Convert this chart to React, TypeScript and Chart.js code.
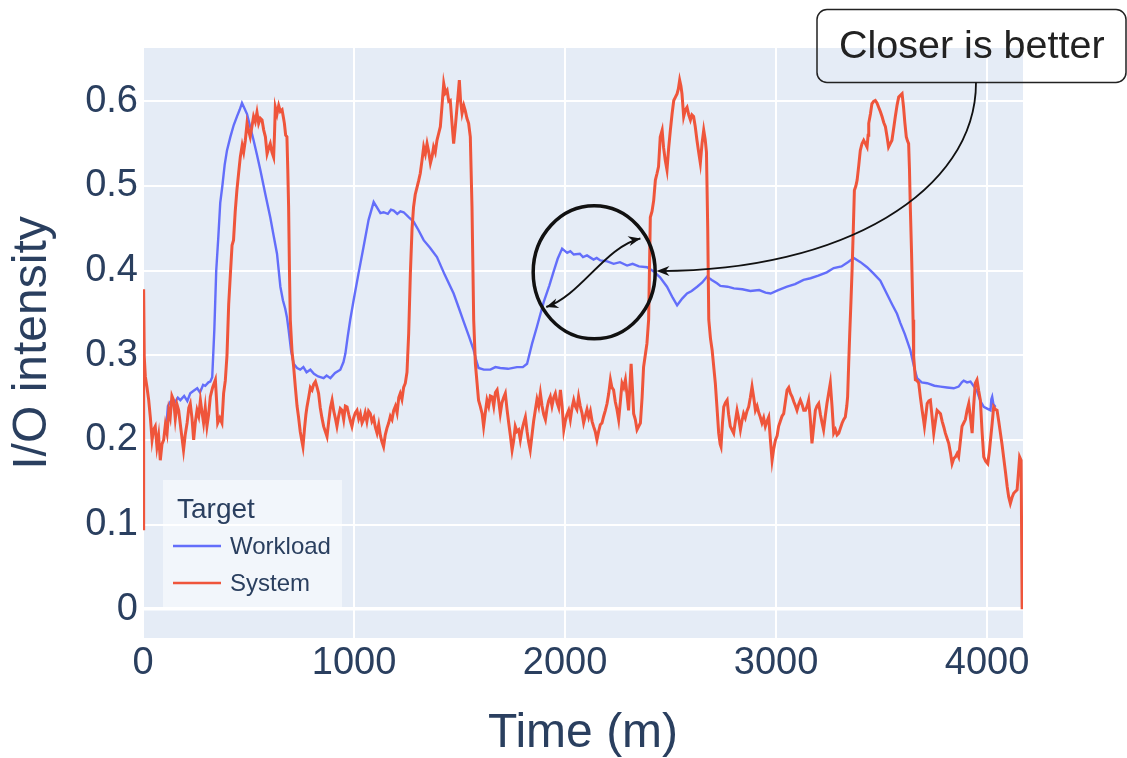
import React, { useEffect, useRef } from "react";
import { Chart, registerables } from "chart.js";

Chart.register(...registerables);

// ---- Data (time in minutes, I/O intensity) ----
const xTickValues = [0, 1000, 2000, 3000, 4000];
const yTickValues = [0, 0.1, 0.2, 0.3, 0.4, 0.5, 0.6];
const seriesLabels = ["Workload", "System"];
const legendTitle = "Target";

const workloadPoints: [number, number][] = [
  [110, 0.214], [118, 0.240], [129, 0.245], [150, 0.244], [165, 0.250], [177, 0.247], [195, 0.252],
  [210, 0.246], [224, 0.255], [240, 0.258], [257, 0.261], [270, 0.256], [285, 0.265], [295, 0.264],
  [310, 0.268], [319, 0.269], [328, 0.274], [338, 0.33], [347, 0.40], [357, 0.44], [366, 0.48],
  [376, 0.50], [387, 0.525], [398, 0.542], [414, 0.558], [430, 0.572], [445, 0.582], [458, 0.590],
  [469, 0.598], [480, 0.592], [493, 0.585], [508, 0.570], [524, 0.554], [540, 0.537], [556, 0.519],
  [580, 0.490], [603, 0.463], [620, 0.440], [635, 0.420], [651, 0.381], [663, 0.365], [674, 0.355],
  [682, 0.345], [690, 0.330], [702, 0.305], [714, 0.290], [730, 0.285], [745, 0.283], [760, 0.286],
  [775, 0.280], [793, 0.283], [810, 0.278], [830, 0.275], [856, 0.273], [870, 0.276], [888, 0.273],
  [910, 0.279], [935, 0.283], [950, 0.292], [959, 0.302], [970, 0.322], [982, 0.342], [998, 0.365],
  [1020, 0.395], [1045, 0.428], [1069, 0.460], [1093, 0.481], [1110, 0.474], [1125, 0.468],
  [1140, 0.469], [1160, 0.467], [1175, 0.472], [1188, 0.471], [1205, 0.467], [1220, 0.470],
  [1235, 0.469], [1260, 0.463], [1282, 0.458], [1305, 0.448], [1330, 0.436], [1360, 0.427],
  [1393, 0.416], [1430, 0.395], [1472, 0.373], [1495, 0.357], [1519, 0.340], [1545, 0.322],
  [1567, 0.306], [1580, 0.293], [1590, 0.285], [1615, 0.283], [1646, 0.283], [1670, 0.286],
  [1693, 0.285], [1730, 0.284], [1772, 0.286], [1800, 0.286], [1820, 0.290], [1835, 0.305],
  [1844, 0.314], [1867, 0.334], [1899, 0.363], [1925, 0.382], [1946, 0.399], [1965, 0.414],
  [1986, 0.426], [2010, 0.421], [2025, 0.423], [2041, 0.419], [2070, 0.420], [2085, 0.416],
  [2104, 0.418], [2135, 0.413], [2150, 0.415], [2167, 0.412], [2200, 0.411], [2230, 0.408],
  [2260, 0.410], [2294, 0.406], [2320, 0.408], [2350, 0.405], [2389, 0.404], [2420, 0.399],
  [2450, 0.392], [2483, 0.381], [2510, 0.368], [2531, 0.359], [2555, 0.367], [2578, 0.373],
  [2600, 0.376], [2626, 0.381], [2650, 0.386], [2673, 0.393], [2695, 0.389], [2720, 0.385],
  [2736, 0.382], [2770, 0.381], [2800, 0.379], [2840, 0.378], [2878, 0.376], [2920, 0.377],
  [2950, 0.374], [2974, 0.373], [3010, 0.377], [3052, 0.381], [3090, 0.384], [3130, 0.389],
  [3163, 0.391], [3200, 0.394], [3240, 0.398], [3273, 0.403], [3310, 0.405], [3340, 0.410],
  [3368, 0.415], [3400, 0.410], [3431, 0.404], [3460, 0.397], [3494, 0.388], [3520, 0.375],
  [3550, 0.360], [3573, 0.349], [3589, 0.338], [3610, 0.325], [3636, 0.306], [3655, 0.285],
  [3668, 0.273], [3690, 0.268], [3716, 0.267], [3750, 0.264], [3779, 0.263], [3810, 0.262],
  [3842, 0.261], [3865, 0.263], [3880, 0.268], [3889, 0.270], [3905, 0.268], [3921, 0.269],
  [3938, 0.263], [3953, 0.257], [3968, 0.246], [3984, 0.239], [4000, 0.237], [4016, 0.235],
  [4020, 0.248], [4024, 0.251], [4030, 0.242], [4040, 0.239],
];

const systemPoints: [number, number][] = [
  [0, 0.095], [3, 0.378], [6, 0.298], [11, 0.275], [19, 0.262], [27, 0.247], [35, 0.226], [43, 0.200],
  [50, 0.212], [58, 0.216], [66, 0.192], [74, 0.205], [82, 0.176], [90, 0.195], [98, 0.200], [106, 0.218],
  [114, 0.208], [122, 0.235], [129, 0.227], [137, 0.252], [145, 0.247], [153, 0.225], [161, 0.242],
  [169, 0.235], [180, 0.212], [192, 0.188], [200, 0.206], [209, 0.220], [217, 0.238], [224, 0.243],
  [232, 0.226], [240, 0.200], [248, 0.221], [256, 0.235], [264, 0.228], [272, 0.247], [280, 0.232],
  [287, 0.220], [295, 0.238], [303, 0.216], [311, 0.230], [319, 0.251], [330, 0.262], [343, 0.271],
  [349, 0.245], [354, 0.220], [364, 0.226], [374, 0.220], [382, 0.255], [390, 0.270], [398, 0.300],
  [406, 0.360], [415, 0.400], [422, 0.430], [429, 0.436], [437, 0.470], [445, 0.495], [453, 0.515],
  [461, 0.534], [470, 0.548], [477, 0.540], [485, 0.554], [493, 0.574], [500, 0.566], [508, 0.558],
  [516, 0.570], [524, 0.582], [532, 0.576], [540, 0.587], [548, 0.574], [556, 0.580], [564, 0.578],
  [572, 0.566], [580, 0.558], [588, 0.538], [596, 0.545], [603, 0.550], [611, 0.540], [619, 0.534],
  [623, 0.560], [627, 0.593], [635, 0.585], [643, 0.595], [651, 0.588], [659, 0.590], [666, 0.580],
  [670, 0.574], [676, 0.560], [682, 0.558], [686, 0.520], [690, 0.475], [694, 0.400], [698, 0.342],
  [706, 0.305], [714, 0.286], [722, 0.262], [730, 0.240], [737, 0.227], [745, 0.210], [752, 0.200],
  [758, 0.192], [766, 0.215], [772, 0.230], [777, 0.239], [785, 0.250], [793, 0.262], [801, 0.259],
  [809, 0.266], [817, 0.269], [825, 0.262], [832, 0.255], [840, 0.238], [848, 0.226], [856, 0.216],
  [864, 0.210], [872, 0.204], [880, 0.222], [888, 0.238], [896, 0.247], [904, 0.234], [912, 0.225],
  [919, 0.216], [927, 0.228], [935, 0.237], [943, 0.235], [951, 0.224], [959, 0.240], [967, 0.239],
  [975, 0.230], [983, 0.222], [990, 0.216], [998, 0.226], [1006, 0.232], [1014, 0.235], [1022, 0.225],
  [1030, 0.231], [1038, 0.220], [1045, 0.224], [1053, 0.232], [1061, 0.222], [1069, 0.234],
  [1077, 0.231], [1085, 0.222], [1093, 0.226], [1101, 0.215], [1109, 0.208], [1117, 0.218],
  [1125, 0.205], [1132, 0.198], [1140, 0.192], [1148, 0.206], [1156, 0.214], [1164, 0.220],
  [1172, 0.228], [1180, 0.224], [1188, 0.235], [1196, 0.240], [1204, 0.232], [1212, 0.250],
  [1219, 0.255], [1227, 0.248], [1235, 0.262], [1243, 0.267], [1251, 0.280], [1259, 0.326],
  [1267, 0.397], [1275, 0.450], [1282, 0.475], [1290, 0.490], [1299, 0.499], [1306, 0.506],
  [1314, 0.515], [1322, 0.530], [1330, 0.546], [1338, 0.538], [1346, 0.550], [1354, 0.540],
  [1362, 0.527], [1370, 0.535], [1377, 0.546], [1385, 0.540], [1393, 0.554], [1401, 0.562],
  [1409, 0.570], [1417, 0.595], [1425, 0.621], [1433, 0.610], [1441, 0.613], [1449, 0.600],
  [1456, 0.601], [1464, 0.575], [1472, 0.550], [1480, 0.570], [1488, 0.593], [1494, 0.610],
  [1499, 0.625], [1505, 0.600], [1512, 0.586], [1520, 0.595], [1527, 0.589], [1535, 0.580],
  [1543, 0.574], [1551, 0.558], [1559, 0.475], [1567, 0.342], [1575, 0.290], [1583, 0.267],
  [1590, 0.247], [1598, 0.240], [1607, 0.231], [1614, 0.216], [1622, 0.232], [1630, 0.247],
  [1638, 0.240], [1646, 0.252], [1654, 0.251], [1662, 0.240], [1670, 0.256], [1678, 0.259],
  [1686, 0.245], [1693, 0.231], [1701, 0.244], [1709, 0.250], [1717, 0.255], [1725, 0.236],
  [1733, 0.220], [1741, 0.205], [1749, 0.188], [1757, 0.200], [1764, 0.216], [1772, 0.210],
  [1780, 0.212], [1788, 0.200], [1796, 0.212], [1804, 0.220], [1812, 0.227], [1820, 0.210],
  [1827, 0.198], [1835, 0.188], [1843, 0.205], [1851, 0.222], [1859, 0.235], [1867, 0.248],
  [1875, 0.240], [1883, 0.255], [1891, 0.240], [1899, 0.230], [1907, 0.224], [1915, 0.238],
  [1922, 0.246], [1930, 0.251], [1938, 0.240], [1946, 0.250], [1954, 0.255], [1962, 0.244],
  [1970, 0.238], [1978, 0.259], [1986, 0.240], [1994, 0.212], [2001, 0.222], [2009, 0.230],
  [2017, 0.235], [2025, 0.224], [2033, 0.238], [2041, 0.247], [2048, 0.240], [2056, 0.236],
  [2064, 0.251], [2072, 0.240], [2080, 0.232], [2088, 0.220], [2096, 0.228], [2104, 0.236],
  [2112, 0.227], [2120, 0.234], [2128, 0.222], [2135, 0.216], [2143, 0.210], [2151, 0.200],
  [2159, 0.210], [2167, 0.218], [2175, 0.220], [2183, 0.228], [2191, 0.235], [2199, 0.243],
  [2207, 0.255], [2215, 0.271], [2222, 0.262], [2230, 0.259], [2238, 0.245], [2246, 0.236],
  [2254, 0.224], [2262, 0.245], [2270, 0.267], [2278, 0.262], [2286, 0.271], [2293, 0.255],
  [2301, 0.235], [2307, 0.262], [2313, 0.290], [2319, 0.262], [2325, 0.231], [2333, 0.224],
  [2341, 0.212], [2349, 0.216], [2357, 0.220], [2365, 0.250], [2372, 0.286], [2380, 0.300],
  [2388, 0.314], [2396, 0.342], [2404, 0.463], [2412, 0.470], [2420, 0.483], [2428, 0.507],
  [2436, 0.515], [2443, 0.523], [2451, 0.558], [2460, 0.566], [2467, 0.545], [2475, 0.530],
  [2483, 0.519], [2491, 0.545], [2499, 0.566], [2507, 0.585], [2515, 0.601], [2523, 0.605],
  [2531, 0.609], [2537, 0.615], [2543, 0.625], [2549, 0.618], [2554, 0.609], [2562, 0.582],
  [2570, 0.590], [2578, 0.593], [2586, 0.584], [2594, 0.578], [2601, 0.584], [2609, 0.582],
  [2617, 0.570], [2625, 0.554], [2633, 0.540], [2641, 0.527], [2649, 0.550], [2657, 0.566],
  [2664, 0.555], [2670, 0.540], [2676, 0.450], [2681, 0.342], [2689, 0.320], [2697, 0.306],
  [2705, 0.285], [2712, 0.267], [2720, 0.238], [2728, 0.208], [2735, 0.195], [2739, 0.192],
  [2746, 0.220], [2752, 0.239], [2760, 0.244], [2768, 0.247], [2775, 0.230], [2783, 0.216],
  [2791, 0.212], [2799, 0.208], [2807, 0.222], [2815, 0.235], [2823, 0.225], [2831, 0.212],
  [2838, 0.222], [2846, 0.231], [2854, 0.226], [2862, 0.234], [2870, 0.239], [2878, 0.250],
  [2886, 0.263], [2894, 0.250], [2902, 0.235], [2910, 0.240], [2918, 0.232], [2925, 0.227],
  [2933, 0.220], [2941, 0.226], [2949, 0.216], [2957, 0.222], [2965, 0.227], [2973, 0.200],
  [2981, 0.176], [2989, 0.190], [2997, 0.200], [3005, 0.205], [3012, 0.216], [3020, 0.222],
  [3028, 0.228], [3036, 0.231], [3044, 0.245], [3052, 0.259], [3060, 0.262], [3068, 0.255],
  [3076, 0.251], [3084, 0.245], [3092, 0.240], [3099, 0.235], [3107, 0.242], [3115, 0.247],
  [3123, 0.242], [3131, 0.235], [3139, 0.235], [3147, 0.240], [3154, 0.247], [3162, 0.225],
  [3170, 0.196], [3178, 0.215], [3186, 0.235], [3194, 0.240], [3202, 0.243], [3210, 0.230],
  [3218, 0.220], [3225, 0.212], [3233, 0.228], [3241, 0.243], [3249, 0.255], [3257, 0.267],
  [3265, 0.240], [3273, 0.208], [3281, 0.212], [3289, 0.206], [3297, 0.208], [3305, 0.214],
  [3313, 0.220], [3320, 0.224], [3328, 0.227], [3335, 0.240], [3339, 0.251], [3344, 0.290],
  [3349, 0.326], [3355, 0.365], [3360, 0.400], [3366, 0.450], [3371, 0.495], [3378, 0.500],
  [3384, 0.507], [3392, 0.525], [3399, 0.542], [3407, 0.550], [3415, 0.554], [3423, 0.550],
  [3431, 0.546], [3436, 0.560], [3439, 0.574], [3447, 0.585], [3454, 0.597], [3462, 0.600],
  [3470, 0.601], [3478, 0.598], [3486, 0.593], [3494, 0.588], [3502, 0.582], [3510, 0.575],
  [3518, 0.570], [3526, 0.558], [3533, 0.546], [3541, 0.550], [3549, 0.554], [3557, 0.568],
  [3565, 0.582], [3573, 0.595], [3581, 0.605], [3589, 0.607], [3597, 0.609], [3604, 0.593],
  [3610, 0.575], [3617, 0.558], [3623, 0.553], [3628, 0.550], [3632, 0.520], [3636, 0.475],
  [3642, 0.420], [3649, 0.342], [3652, 0.298], [3656, 0.285], [3660, 0.271], [3668, 0.270],
  [3676, 0.267], [3684, 0.250], [3692, 0.235], [3698, 0.225], [3703, 0.216], [3710, 0.230],
  [3716, 0.243], [3724, 0.246], [3731, 0.247], [3739, 0.228], [3747, 0.208], [3755, 0.222],
  [3763, 0.235], [3771, 0.233], [3779, 0.231], [3787, 0.222], [3795, 0.215], [3802, 0.208],
  [3810, 0.202], [3818, 0.196], [3826, 0.185], [3834, 0.172], [3842, 0.178], [3850, 0.180],
  [3858, 0.184], [3865, 0.180], [3873, 0.198], [3881, 0.216], [3889, 0.220], [3897, 0.224],
  [3905, 0.235], [3913, 0.243], [3921, 0.226], [3929, 0.208], [3936, 0.240], [3944, 0.267],
  [3952, 0.271], [3960, 0.258], [3968, 0.247], [3976, 0.210], [3984, 0.180], [3993, 0.175],
  [4003, 0.172], [4010, 0.185], [4016, 0.200], [4024, 0.220], [4031, 0.239], [4039, 0.236],
  [4047, 0.235], [4055, 0.222], [4063, 0.208], [4071, 0.194], [4078, 0.180], [4087, 0.162],
  [4095, 0.145], [4102, 0.133], [4110, 0.125], [4118, 0.132], [4126, 0.137], [4134, 0.139],
  [4142, 0.141], [4148, 0.160], [4154, 0.180], [4161, 0.176], [4166, 0.0],
];

// annotation anchors in data space
const circleCenter = { t: 2138, v: 0.398 };
const sArrowStart = { t: 1911, v: 0.357 };
const sArrowEnd = { t: 2357, v: 0.438 };
const calloutTarget = { t: 2433, v: 0.3995 };
const calloutText = "Closer is better";

const FONT = "'Liberation Sans', Arial, Helvetica, sans-serif";
const TEXT = "#2a3f5f";
const BLUE = "#636EFA";
const RED = "#EF553B";

function arrowHead(ctx: CanvasRenderingContext2D, x: number, y: number, ang: number, len = 12, half = 5) {
  ctx.beginPath();
  ctx.moveTo(x, y);
  ctx.lineTo(x - len * Math.cos(ang) + half * Math.sin(ang), y - len * Math.sin(ang) - half * Math.cos(ang));
  ctx.lineTo(x - len * Math.cos(ang) * 0.7, y - len * Math.sin(ang) * 0.7);
  ctx.lineTo(x - len * Math.cos(ang) - half * Math.sin(ang), y - len * Math.sin(ang) + half * Math.cos(ang));
  ctx.closePath();
  ctx.fill();
}

export default function App() {
  const ref = useRef<HTMLCanvasElement>(null);

  useEffect(() => {
    const canvas = ref.current!;

    const bgPlugin = {
      id: "plotBg",
      beforeDraw(chart: any) {
        const { ctx, chartArea: a } = chart;
        ctx.save();
        ctx.fillStyle = "#E5ECF6";
        ctx.fillRect(a.left, a.top, a.right - a.left, a.bottom - a.top);
        ctx.restore();
      },
    };

    const annotPlugin = {
      id: "annots",
      afterDraw(chart: any) {
        const { ctx } = chart;
        const xs = chart.scales.x;
        const ys = chart.scales.y;
        ctx.save();
        ctx.strokeStyle = "#111";
        ctx.fillStyle = "#111";

        // circle
        const cx = xs.getPixelForValue(circleCenter.t);
        const cy = ys.getPixelForValue(circleCenter.v);
        ctx.lineWidth = 3.5;
        ctx.beginPath();
        ctx.ellipse(cx, cy, 61, 66.5, 0, 0, Math.PI * 2);
        ctx.stroke();

        // S-shaped double arrow
        const x0 = xs.getPixelForValue(sArrowStart.t), y0 = ys.getPixelForValue(sArrowStart.v);
        const x3 = xs.getPixelForValue(sArrowEnd.t), y3 = ys.getPixelForValue(sArrowEnd.v);
        const c1x = x0 + 34, c1y = y0 - 11;
        const c2x = x3 - 35, c2y = y3 + 8;
        ctx.lineWidth = 2;
        ctx.beginPath();
        ctx.moveTo(x0, y0);
        ctx.bezierCurveTo(c1x, c1y, c2x, c2y, x3, y3);
        ctx.stroke();
        arrowHead(ctx, x0, y0, Math.atan2(y0 - c1y, x0 - c1x), 12, 5);
        arrowHead(ctx, x3, y3, Math.atan2(y3 - c2y, x3 - c2x), 12, 5);

        // callout box
        const bx = 817, by = 9.5, bw = 1126 - 817, bh = 73;
        ctx.lineWidth = 1.5;
        ctx.strokeStyle = "#222";
        ctx.beginPath();
        (ctx as any).roundRect(bx, by, bw, bh, 10);
        ctx.stroke();
        ctx.fillStyle = "#222";
        ctx.font = `39.5px ${FONT}`;
        ctx.textBaseline = "alphabetic";
        ctx.textAlign = "left";
        ctx.fillText(calloutText, 839, 58);

        // long curved arrow from box to circle
        const sx = 976, sy = by + bh;
        const ex = xs.getPixelForValue(calloutTarget.t), ey = ys.getPixelForValue(calloutTarget.v);
        const k = 0.58;
        const p1x = sx, p1y = sy + (ey - sy) * k;
        const p2x = ex + (sx - ex) * k, p2y = ey;
        ctx.strokeStyle = "#111";
        ctx.fillStyle = "#111";
        ctx.lineWidth = 1.8;
        ctx.beginPath();
        ctx.moveTo(sx, sy);
        ctx.bezierCurveTo(p1x, p1y, p2x, p2y, ex + 4, ey);
        ctx.stroke();
        arrowHead(ctx, ex, ey, Math.PI, 13, 5);

        // legend
        const lx = 163, ly = 480, lw = 179, lh = 127;
        ctx.fillStyle = "rgba(255,255,255,0.5)";
        ctx.fillRect(lx, ly, lw, lh);
        ctx.fillStyle = TEXT;
        ctx.font = `28px ${FONT}`;
        ctx.fillText(legendTitle, 177, 518);
        const ds = chart.data.datasets;
        const rows = [546, 583];
        ds.forEach((d: any, i: number) => {
          const yy = rows[i];
          ctx.strokeStyle = d.borderColor;
          ctx.lineWidth = 2.5;
          ctx.beginPath();
          ctx.moveTo(173, yy);
          ctx.lineTo(221, yy);
          ctx.stroke();
          ctx.fillStyle = TEXT;
          ctx.font = `24px ${FONT}`;
          ctx.textBaseline = "middle";
          ctx.fillText(d.label, 230, yy + 1);
        });
        ctx.restore();
      },
    };

    const chart = new Chart(canvas, {
      type: "line",
      data: {
        datasets: [
          {
            label: seriesLabels[0],
            data: workloadPoints.map(([t, v]) => ({ x: t, y: v })),
            borderColor: BLUE,
            backgroundColor: BLUE,
            borderWidth: 2.4,
            pointRadius: 0,
            tension: 0,
            order: 1,
          },
          {
            label: seriesLabels[1],
            data: systemPoints.map(([t, v]) => ({ x: t, y: v })),
            borderColor: RED,
            backgroundColor: RED,
            borderWidth: 3,
            pointRadius: 0,
            tension: 0,
            order: 0,
          },
        ],
      },
      options: {
        responsive: false,
        animation: false,
        devicePixelRatio: 1,
        layout: { padding: { top: 48, right: 104, left: 0, bottom: 0 } },
        plugins: { legend: { display: false }, tooltip: { enabled: false } },
        scales: {
          x: {
            type: "linear",
            min: 0,
            max: 4170,
            afterBuildTicks: (s: any) => {
              s.ticks = xTickValues.map((v) => ({ value: v }));
            },
            afterFit: (s: any) => {
              s.height = 120;
            },
            grid: { color: "#ffffff", lineWidth: 2, drawTicks: false },
            border: { display: false },
            ticks: {
              padding: 3,
              color: TEXT,
              font: { family: FONT, size: 38 },
              maxRotation: 0,
              autoSkip: false,
              callback: (v: any) => String(v),
            },
            title: {
              display: true,
              text: "Time (m)",
              color: TEXT,
              font: { family: FONT, size: 48, lineHeight: 1 },
              padding: { top: 2, bottom: 0 },
            },
          },
          y: {
            type: "linear",
            min: -0.034,
            max: 0.663,
            afterBuildTicks: (s: any) => {
              s.ticks = yTickValues.map((v) => ({ value: v }));
            },
            afterFit: (s: any) => {
              s.width = 143;
            },
            grid: {
              color: "#ffffff",
              lineWidth: (c: any) => (c.tick && c.tick.value === 0 ? 3.5 : 2),
              drawTicks: false,
            },
            border: { display: false },
            ticks: {
              padding: 5,
              color: TEXT,
              font: { family: FONT, size: 38 },
              autoSkip: false,
              callback: (v: any) => (v === 0 ? "0" : Number(v).toFixed(1)),
            },
            title: {
              display: true,
              text: "I/O intensity",
              color: TEXT,
              font: { family: FONT, size: 48, lineHeight: 1 },
              padding: { top: 9, bottom: 0 },
            },
          },
        },
      },
      plugins: [bgPlugin, annotPlugin],
    } as any);

    return () => chart.destroy();
  }, []);

  return (
    <div style={{ position: "absolute", left: 0, top: 0, width: 1127, height: 758, background: "#fff" }}>
      <canvas ref={ref} width={1127} height={758} style={{ display: "block" }} />
    </div>
  );
}
